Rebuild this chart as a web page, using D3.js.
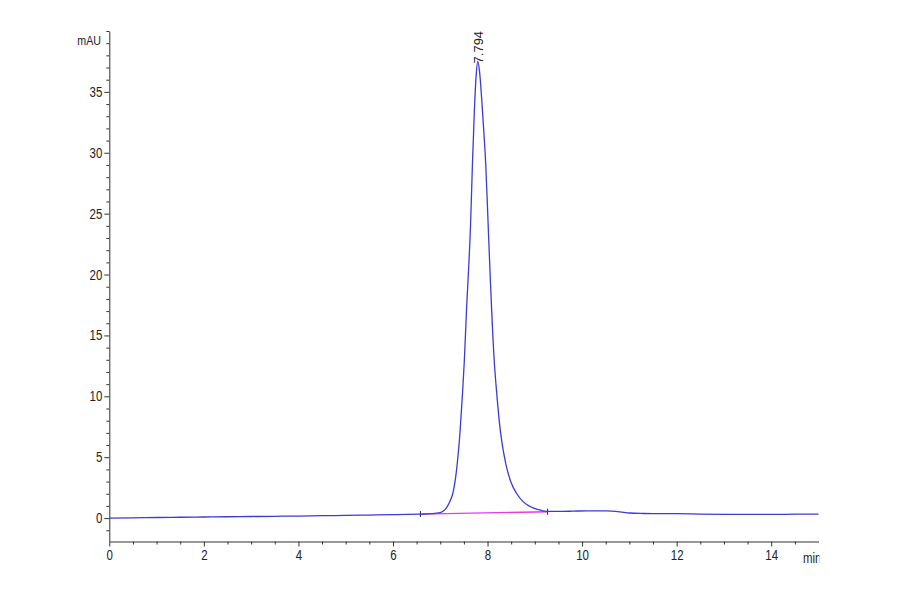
<!DOCTYPE html>
<html>
<head>
<meta charset="utf-8">
<script src="https://cdn.jsdelivr.net/npm/d3@7"></script>
<style>
  body { margin: 0; background: #fff; }
  text { font-family: "Liberation Sans", Arial, sans-serif; fill: #222; }
  .axis path, .axis line { stroke: #333; }
</style>
</head>
<body>
<div class="chromatogram"></div>
<script>
// signal trace (min, mAU)
const times = [0, 0.5, 1, 1.5, 2, 2.5, 3, 3.5, 4, 4.5, 5, 5.5, 6, 6.3, 6.6, 6.8, 7.0, 7.1, 7.14, 7.2,
  7.27, 7.32, 7.36, 7.42, 7.47, 7.51, 7.56, 7.6, 7.64, 7.68, 7.72, 7.76, 7.794, 7.83, 7.88, 7.92,
  7.96, 8.0, 8.06, 8.14, 8.2, 8.27, 8.33, 8.39, 8.5, 8.62, 8.75, 8.9, 9.05, 9.25, 9.5, 9.8, 10.1,
  10.5, 10.8, 11.0, 11.3, 11.7, 12, 12.5, 13, 13.5, 14, 14.5, 15];
const signal = [0.0, 0.02, 0.05, 0.07, 0.09, 0.11, 0.13, 0.15, 0.17, 0.2, 0.22, 0.25, 0.28, 0.3, 0.33, 0.36, 0.45, 0.7, 0.9, 1.35,
  2.1, 3.2, 4.5, 7.2, 10.2, 13.0, 17.5, 20.5, 24.0, 29.0, 33.3, 36.4, 37.5, 36.7, 34.2, 31.8,
  29.2, 25.4, 19.5, 13.0, 10.0, 7.2, 5.6, 4.4, 2.9, 2.0, 1.35, 0.95, 0.72, 0.55, 0.55, 0.57, 0.6,
  0.6, 0.52, 0.42, 0.38, 0.36, 0.36, 0.33, 0.31, 0.3, 0.3, 0.32, 0.33];
// integration baseline of the peak
const baseTimes = [6.58, 9.27];
const baseValues = [0.33, 0.52];
// peak label
const peakTime = 7.794;
const peakHeight = 37.5;
const peakLabel = '7.794';
// ticks
const xMajor = [0, 2, 4, 6, 8, 10, 12, 14];
const xMinor = [1, 3, 5, 7, 9, 11, 13, 0.5, 1.5, 2.5, 3.5, 4.5, 5.5, 6.5, 7.5, 8.5, 9.5, 10.5, 11.5, 12.5, 13.5, 14.5];
const yMajor = [0, 5, 10, 15, 20, 25, 30, 35];
const yMinor = [-1, 1, 2, 3, 4, 6, 7, 8, 9, 11, 12, 13, 14, 16, 17, 18, 19, 21, 22, 23, 24, 26, 27, 28, 29, 31, 32, 33, 34, 36, 37, 38, 39, 40];

const svg_width = 900;
const svg_height = 594;
const narrow = 0.82; // squeeze text like a narrow font
const svg = d3.select('.chromatogram')
  .append('svg')
  .attr('width', svg_width)
  .attr('height', svg_height);

const xScale = d3.scaleLinear([0, 15], [109.3, 818.5]);
const yScale = d3.scaleLinear([-1.88, 40], [541, 31]);
const axisY = 541.5;

// x axis
const xAxisG = svg.append('g')
  .attr('class', 'x axis')
  .attr('transform', `translate(0,${axisY})`);
xAxisG.call(d3.axisBottom(xScale).tickValues(xMajor).tickFormat(d3.format('d')).tickSizeInner(5).tickSizeOuter(0));
xAxisG.append('g')
  .call(d3.axisBottom(xScale).tickValues(xMinor).tickFormat('').tickSize(3))
  .select('.domain').remove();
xAxisG.selectAll('text')
  .style('font-size', '14px')
  .attr('y', 9)
  .attr('transform', `scale(${narrow},1)`);

// "min" unit, clipped at end of axis
svg.append('clipPath').attr('id', 'clipMin')
  .append('rect').attr('x', 790).attr('y', 540).attr('width', 29.5).attr('height', 40);
svg.append('g')
  .attr('clip-path', 'url(#clipMin)')
  .append('text')
  .attr('transform', `translate(803,563) scale(${narrow},1)`)
  .style('font-size', '14px')
  .text('min');

// y axis
const yAxisG = svg.append('g')
  .attr('class', 'y axis')
  .attr('transform', `translate(${xScale(0)},0)`);
yAxisG.call(d3.axisLeft(yScale).tickValues(yMajor).tickFormat(d3.format('d')).tickSizeInner(5).tickSizeOuter(0));
yAxisG.append('g')
  .call(d3.axisLeft(yScale).tickValues(yMinor).tickFormat('').tickSize(3))
  .select('.domain').remove();
yAxisG.selectAll('text')
  .style('font-size', '14px')
  .attr('x', -7 / narrow)
  .attr('transform', `scale(${narrow},1)`);

svg.append('text')
  .attr('transform', `translate(101,45) scale(${narrow},1)`)
  .attr('text-anchor', 'end')
  .style('font-size', '13px')
  .text('mAU');

// baseline of the peak
svg.append('line')
  .attr('x1', xScale(baseTimes[0]))
  .attr('y1', yScale(baseValues[0]))
  .attr('x2', xScale(baseTimes[1]))
  .attr('y2', yScale(baseValues[1]))
  .attr('stroke', '#e23ee2')
  .attr('stroke-width', 1.3);
svg.selectAll('.base-mark')
  .data(baseTimes)
  .join('line')
  .attr('class', 'base-mark')
  .attr('x1', d => xScale(d))
  .attr('x2', d => xScale(d))
  .attr('y1', (d, i) => yScale(baseValues[i]) - 3)
  .attr('y2', (d, i) => yScale(baseValues[i]) + 3)
  .attr('stroke', '#222')
  .attr('stroke-width', 1);

// signal
const line = d3.line()
  .x((d, i) => xScale(times[i]))
  .y(d => yScale(d))
  .curve(d3.curveMonotoneX);
svg.append('path')
  .datum(signal)
  .attr('fill', 'none')
  .attr('stroke', '#3b3bd6')
  .attr('stroke-width', 1.3)
  .attr('d', line);

// peak label
svg.append('text')
  .attr('transform', `translate(${xScale(peakTime) + 5},${yScale(peakHeight) + 2}) rotate(-90)`)
  .style('font-size', '13px')
  .text(peakLabel);
</script>
</body>
</html>
